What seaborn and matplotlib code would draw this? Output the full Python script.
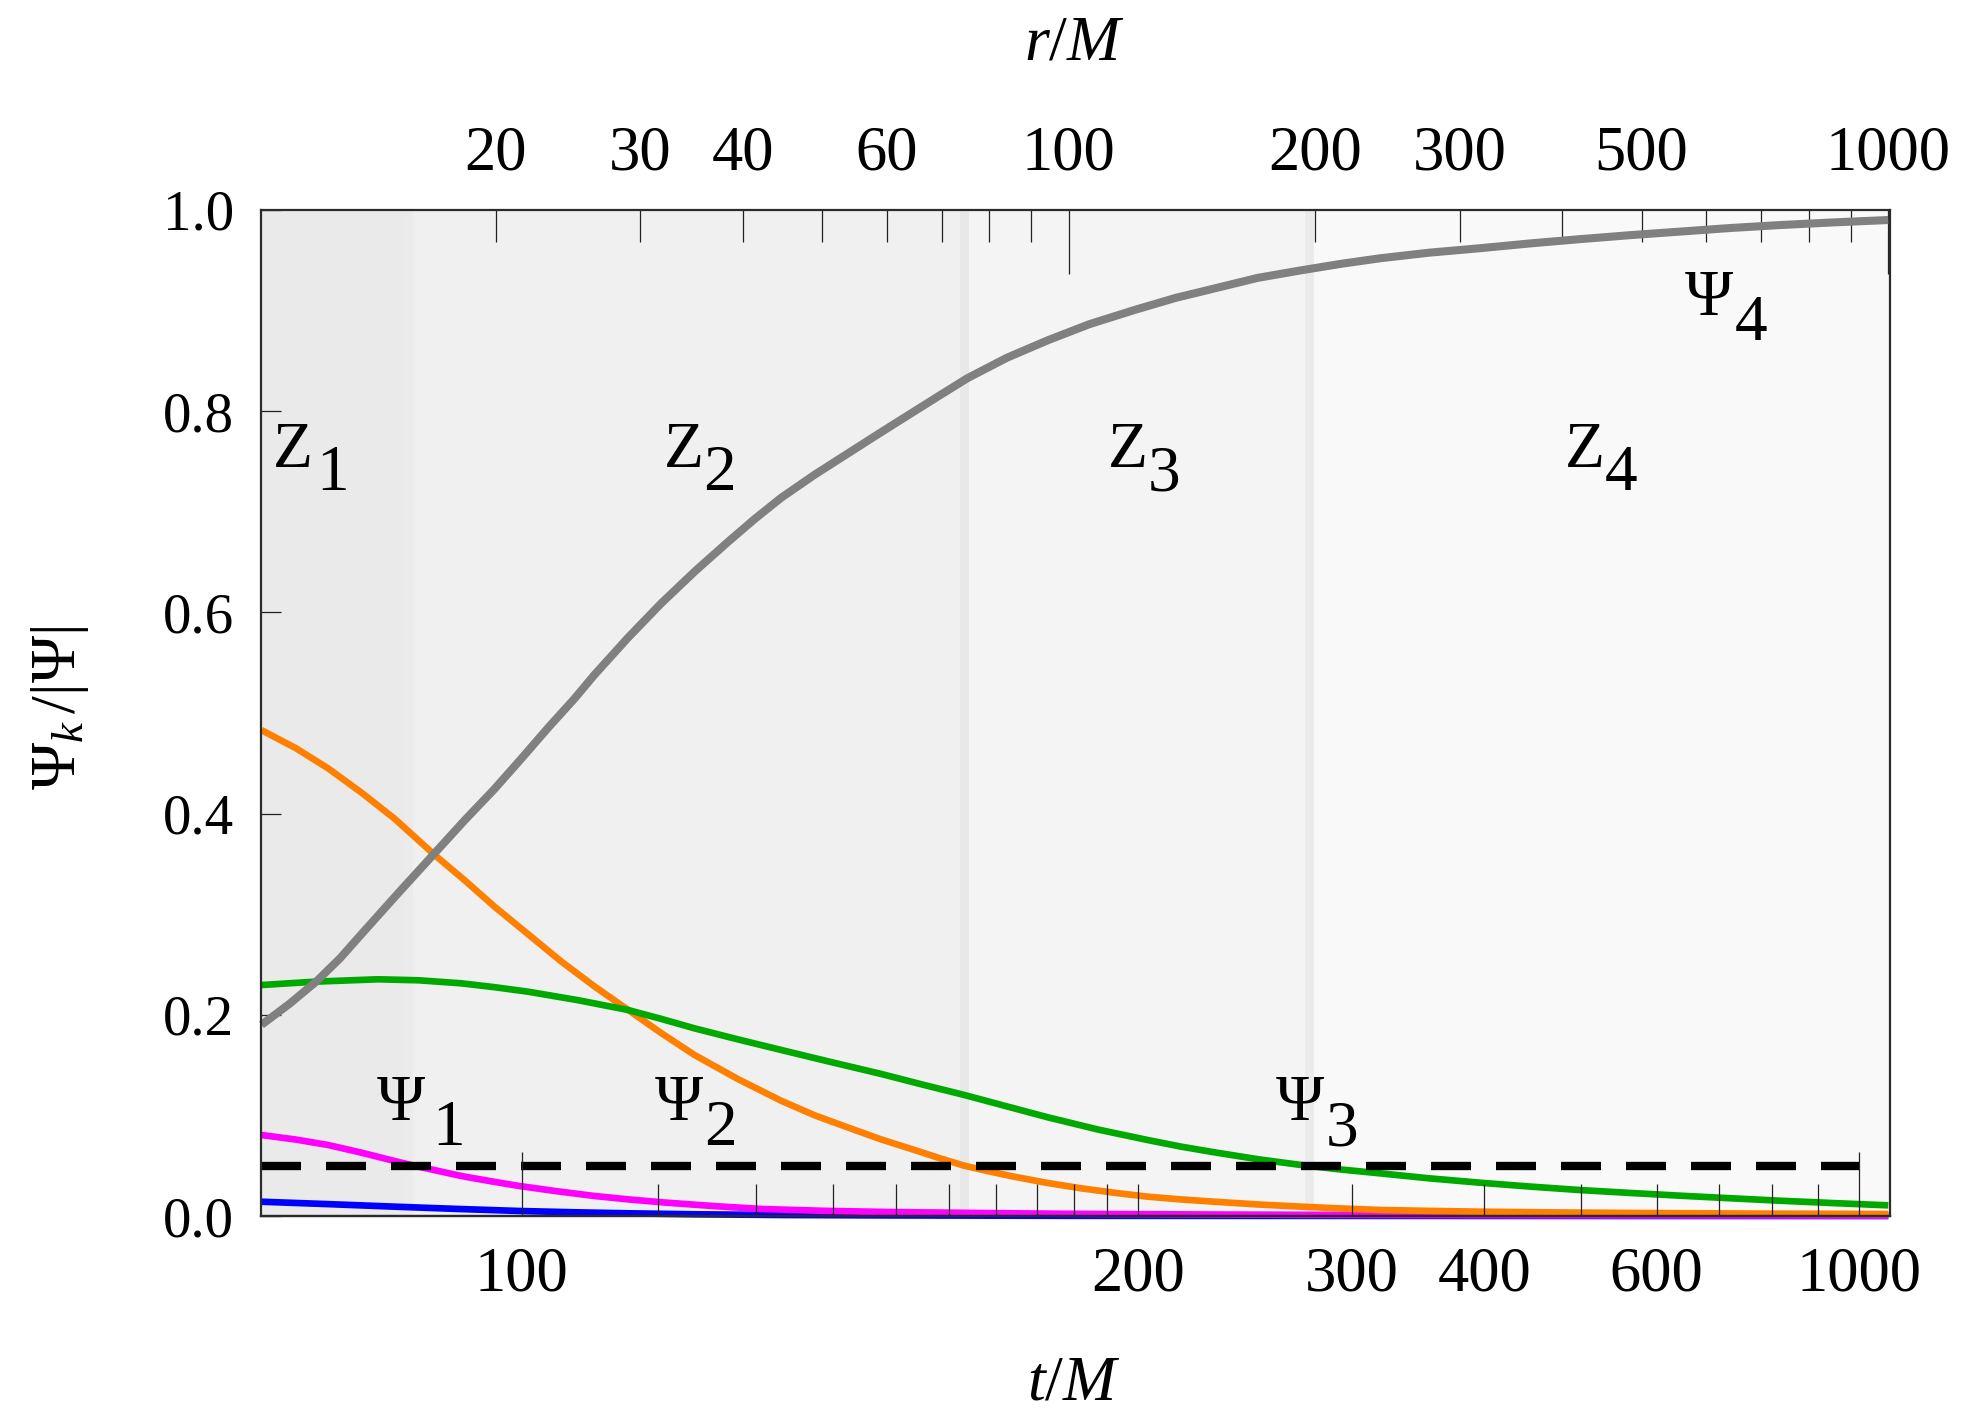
import matplotlib
matplotlib.use("Agg")
import numpy as np
import matplotlib.pyplot as plt
from matplotlib.ticker import NullLocator
import seaborn as sns

# ---------------------------------------------------------------------------
# Normalised mode amplitudes Psi_k/|Psi| sampled against radius r/M
# ---------------------------------------------------------------------------
r_psi0 = [10.35, 12.5, 15.04, 18.0, 21.37, 25.0, 28.98, 35.0, 44.59, 60.0,
          100.0, 1000.0]
psi0 = [0.0142, 0.0118, 0.0093, 0.0070, 0.0050, 0.0037, 0.0027, 0.0017, 0.0010,
        0.0006, 0.0002, 0.0]

r_psi1 = [10.35, 11.4, 12.48, 13.7, 15.04, 15.76, 18.14, 19.7, 21.37, 23.8,
          26.38, 29.2, 32.27, 37.0, 42.14, 50.0, 60.0, 80.0, 100.0, 140.0,
          192.0, 400.0, 1000.0]
psi1 = [0.0805, 0.0760, 0.0706, 0.0630, 0.0547, 0.0507, 0.0398, 0.0346, 0.0298, 0.0245,
        0.0199, 0.0163, 0.0133, 0.0098, 0.0070, 0.0052, 0.0040, 0.0029, 0.0022, 0.0016,
        0.0012, 0.0007, 0.0004]

r_psi2 = [10.35, 11.4, 12.48, 13.7, 15.04, 16.83, 18.3, 19.92, 21.9, 24.03,
          26.4, 28.98, 31.8, 34.95, 39.5, 44.59, 49.0, 53.77, 59.0, 64.84,
          69.5, 74.57, 80.0, 85.87, 94.0, 103.6, 114.0, 124.9, 137.0, 150.6,
          170.0, 192.1, 215.0, 239.9, 275.0, 317.7, 400.0, 500.0, 700.0, 1000.0]
psi2 = [0.483, 0.465, 0.445, 0.421, 0.395, 0.359, 0.334, 0.3075, 0.280, 0.253,
        0.228, 0.205, 0.182, 0.160, 0.136, 0.1145, 0.100, 0.088, 0.0762, 0.0656,
        0.0576, 0.050, 0.0443, 0.039, 0.0330, 0.0275, 0.0230, 0.0192, 0.0165, 0.0142,
        0.0115, 0.0093, 0.0075, 0.0060, 0.0051, 0.0043, 0.0035, 0.0030, 0.0024, 0.0020]

r_psi3 = [10.35, 12.07, 14.36, 16.1, 18.14, 19.9, 21.88, 25.2, 28.98, 31.8,
          34.95, 39.5, 44.59, 51.3, 59.04, 66.4, 74.57, 84.0, 94.3, 108.5,
          124.9, 137.0, 150.6, 170.0, 192.1, 215.0, 239.9, 275.0, 317.7, 365.0,
          420.7, 485.0, 557.2, 640.0, 738.0, 860.0, 1000.0]
psi3 = [0.2296, 0.2330, 0.2353, 0.2343, 0.2313, 0.2275, 0.2230, 0.2145, 0.2048, 0.1960,
        0.1865, 0.1755, 0.1650, 0.1530, 0.1412, 0.1305, 0.1203, 0.1090, 0.0981, 0.0860,
        0.0755, 0.0690, 0.0633, 0.0565, 0.0507, 0.0462, 0.0424, 0.0375, 0.0331, 0.0293,
        0.0258, 0.0229, 0.0202, 0.0177, 0.0152, 0.0128, 0.0106]

r_psi4 = [10.35, 11.2, 12.07, 12.9, 13.70, 15.2, 16.83, 18.3, 19.92, 21.5,
          23.14, 24.94, 26.38, 29.0, 31.82, 35.0, 38.38, 41.4, 44.59, 49.0,
          53.77, 59.0, 64.84, 70.0, 75.3, 84.0, 94.3, 106.0, 120.3, 135.0,
          150.6, 170.0, 192.1, 215.0, 239.9, 275.0, 317.7, 365.0, 420.7, 485.0,
          557.2, 640.0, 738.0, 860.0, 1000.0]
psi4 = [0.190, 0.211, 0.233, 0.256, 0.280, 0.321, 0.3605, 0.393, 0.4245, 0.455,
        0.485, 0.5143, 0.538, 0.575, 0.609, 0.641, 0.670, 0.693, 0.714, 0.737,
        0.758, 0.779, 0.800, 0.817, 0.833, 0.853, 0.8705, 0.8865, 0.9006, 0.9126,
        0.922, 0.9325, 0.940, 0.9465, 0.952, 0.9575, 0.962, 0.9667, 0.971, 0.975,
        0.9785, 0.982, 0.985, 0.9877, 0.990]

# threshold below which a mode is considered negligible, and zone edges (r/M)
threshold = 0.05
zone_edges = [15.6, 74.6, 196.5]
r_range = (10.35, 1003.5)

# bottom axis: t/M = r/M + T_OFFSET
T_OFFSET = 78.5
t_end = 1000

# tick values
r_major = [100, 1000]
r_minor = [20, 30, 40, 50, 60, 70, 80, 90, 200, 300, 400, 500, 600, 700, 800, 900]
r_minor_labelled = [20, 30, 40, 60, 200, 300, 500]
t_major = [100, 1000]
t_minor = [110, 120, 130, 140, 150, 160, 170, 180, 190, 200, 300, 400, 500, 600,
           700, 800, 900]
t_minor_labelled = [200, 300, 400, 600]
y_ticks = [0.0, 0.2, 0.4, 0.6, 0.8, 1.0]

# ---------------------------------------------------------------------------
sns.set_style("ticks")
plt.rcParams["font.family"] = ["Liberation Serif", "DejaVu Serif"]
plt.rcParams["mathtext.fontset"] = "custom"
plt.rcParams["mathtext.rm"] = "Liberation Serif"
plt.rcParams["mathtext.it"] = "Liberation Serif:italic"
plt.rcParams["mathtext.bf"] = "Liberation Serif:bold"
plt.rcParams["text.color"] = "black"
plt.rcParams["axes.labelcolor"] = "black"
plt.rcParams["xtick.labelcolor"] = "black"
plt.rcParams["ytick.labelcolor"] = "black"

FRAME = "#2b2b2b"
TICK = "#222222"

fig = plt.figure(figsize=(9.83, 7.06), dpi=200)
ax = fig.add_axes([0.1330, 0.1388, 0.8281, 0.7125])
ax.set_xscale("log")

# shaded zones
zone_colors = ["#eaeaea", "#f0f0f0", "#f4f4f4", "#f9f9f9"]
edge_colors = ["#ebebeb", "#e8e8e8", "#ebebeb"]
bounds = [r_range[0], *zone_edges, r_range[1]]
for lo, hi, c in zip(bounds[:-1], bounds[1:], zone_colors):
    ax.axvspan(lo, hi, color=c, lw=0, zorder=0)
for e, c in zip(zone_edges, edge_colors):
    ax.axvline(e, color=c, lw=3.2, zorder=0.5)

# curves
curves = [
    (r_psi0, psi0, "#0000ff", 2.4),
    (r_psi1, psi1, "#ff00ff", 2.4),
    (r_psi2, psi2, "#ff8000", 2.4),
    (r_psi3, psi3, "#00a800", 2.4),
    (r_psi4, psi4, "#808080", 2.9),
]
for r, v, c, lw in curves:
    sns.lineplot(x=r, y=v, ax=ax, color=c, linewidth=lw, estimator=None,
                 sort=False, clip_on=False, solid_capstyle="butt",
                 solid_joinstyle="round", zorder=2)

# threshold line
sns.lineplot(x=[r_range[0], t_end - T_OFFSET], y=[threshold, threshold], ax=ax,
             color="black", linewidth=3.0, linestyle=(0, (4.8, 3.0)),
             dash_capstyle="butt", estimator=None, zorder=2.2)

ax.set_xlim(*r_range)
ax.set_ylim(0, 1)
ax.set_xlabel("")
ax.set_ylabel("")

# top axis: r/M
ax.xaxis.set_ticks_position("top")
ax.set_xticks(r_major, labels=[str(v) for v in r_major])
ax.set_xticks(r_minor, labels=[str(v) if v in r_minor_labelled else "" for v in r_minor],
              minor=True)
ax.tick_params(axis="x", which="both", top=True, bottom=False, labeltop=True,
               labelbottom=False, direction="in", width=0.45, color=TICK,
               labelsize=22.5, pad=9.5, labelcolor="black")
ax.tick_params(axis="x", which="major", length=23)
ax.tick_params(axis="x", which="minor", length=11.5)

# left axis
ax.set_yticks(y_ticks, labels=[f"{v:.1f}" for v in y_ticks])
ax.yaxis.set_minor_locator(NullLocator())
ax.tick_params(axis="y", which="major", left=True, right=False, direction="in",
               length=7.2, width=0.45, color=TICK, labelsize=20.5, pad=10,
               labelcolor="black")

for s in ax.spines.values():
    s.set_color(FRAME)
    s.set_linewidth(0.8)
    s.set_zorder(2.6)

# bottom axis: t/M
sec = ax.secondary_xaxis("bottom",
                         functions=(lambda r: np.asarray(r) + T_OFFSET,
                                    lambda t: np.asarray(t) - T_OFFSET))
sec.set_zorder(2.6)
sec.set_xticks(t_major, labels=[str(v) for v in t_major])
sec.set_xticks(t_minor, labels=[str(v) if v in t_minor_labelled else "" for v in t_minor],
               minor=True)
sec.tick_params(axis="x", which="both", direction="in", width=0.45, color=TICK,
                labelsize=22.5, pad=11, labelcolor="black")
sec.tick_params(axis="x", which="major", length=23)
sec.tick_params(axis="x", which="minor", length=11.5)
sec.spines["bottom"].set_color(FRAME)
sec.spines["bottom"].set_linewidth(0.8)


def indexed_label(x, y, head, index, gap, drop, size=23.5):
    main = ax.text(x, y, head, ha="left", va="baseline", fontsize=size,
                   color="black", zorder=6)
    ax.annotate(index, xy=(1, y), xycoords=(main, "data"), xytext=(gap, -drop),
                textcoords="offset points", ha="left", va="baseline",
                fontsize=size, color="black", zorder=6)


for head, idx, x, y, gap, drop in [
    ("Z", "1", 10.69, 0.7445, 1.2, 8.3),
    ("Z", "2", 32.09, 0.7445, -0.5, 8.3),
    ("Z", "3", 111.6, 0.7445, 0.0, 8.3),
    ("Z", "4", 403.4, 0.7445, 0.0, 8.3),
    ("\u03a8", "1", 14.29, 0.0954, 3.0, 9.0),
    ("\u03a8", "2", 31.22, 0.0954, 0.6, 9.0),
    ("\u03a8", "3", 179.1, 0.0954, 0.6, 9.0),
    ("\u03a8", "4", 565.1, 0.8956, 0.6, 9.0),
]:
    indexed_label(x, y, head, idx, gap, drop)

# axis titles
fig.text(0.5465, 0.9582, r"$r/M$", ha="center", va="baseline", fontsize=23,
         color="black")
fig.text(0.5460, 0.0085, r"$t/M$", ha="center", va="baseline", fontsize=23,
         color="black")
fig.text(0.0305, 0.4986, r"$\Psi_k\,/|\Psi|$", rotation=90, ha="center",
         va="center", fontsize=23, color="black")

fig.savefig("out.png", dpi=200)
